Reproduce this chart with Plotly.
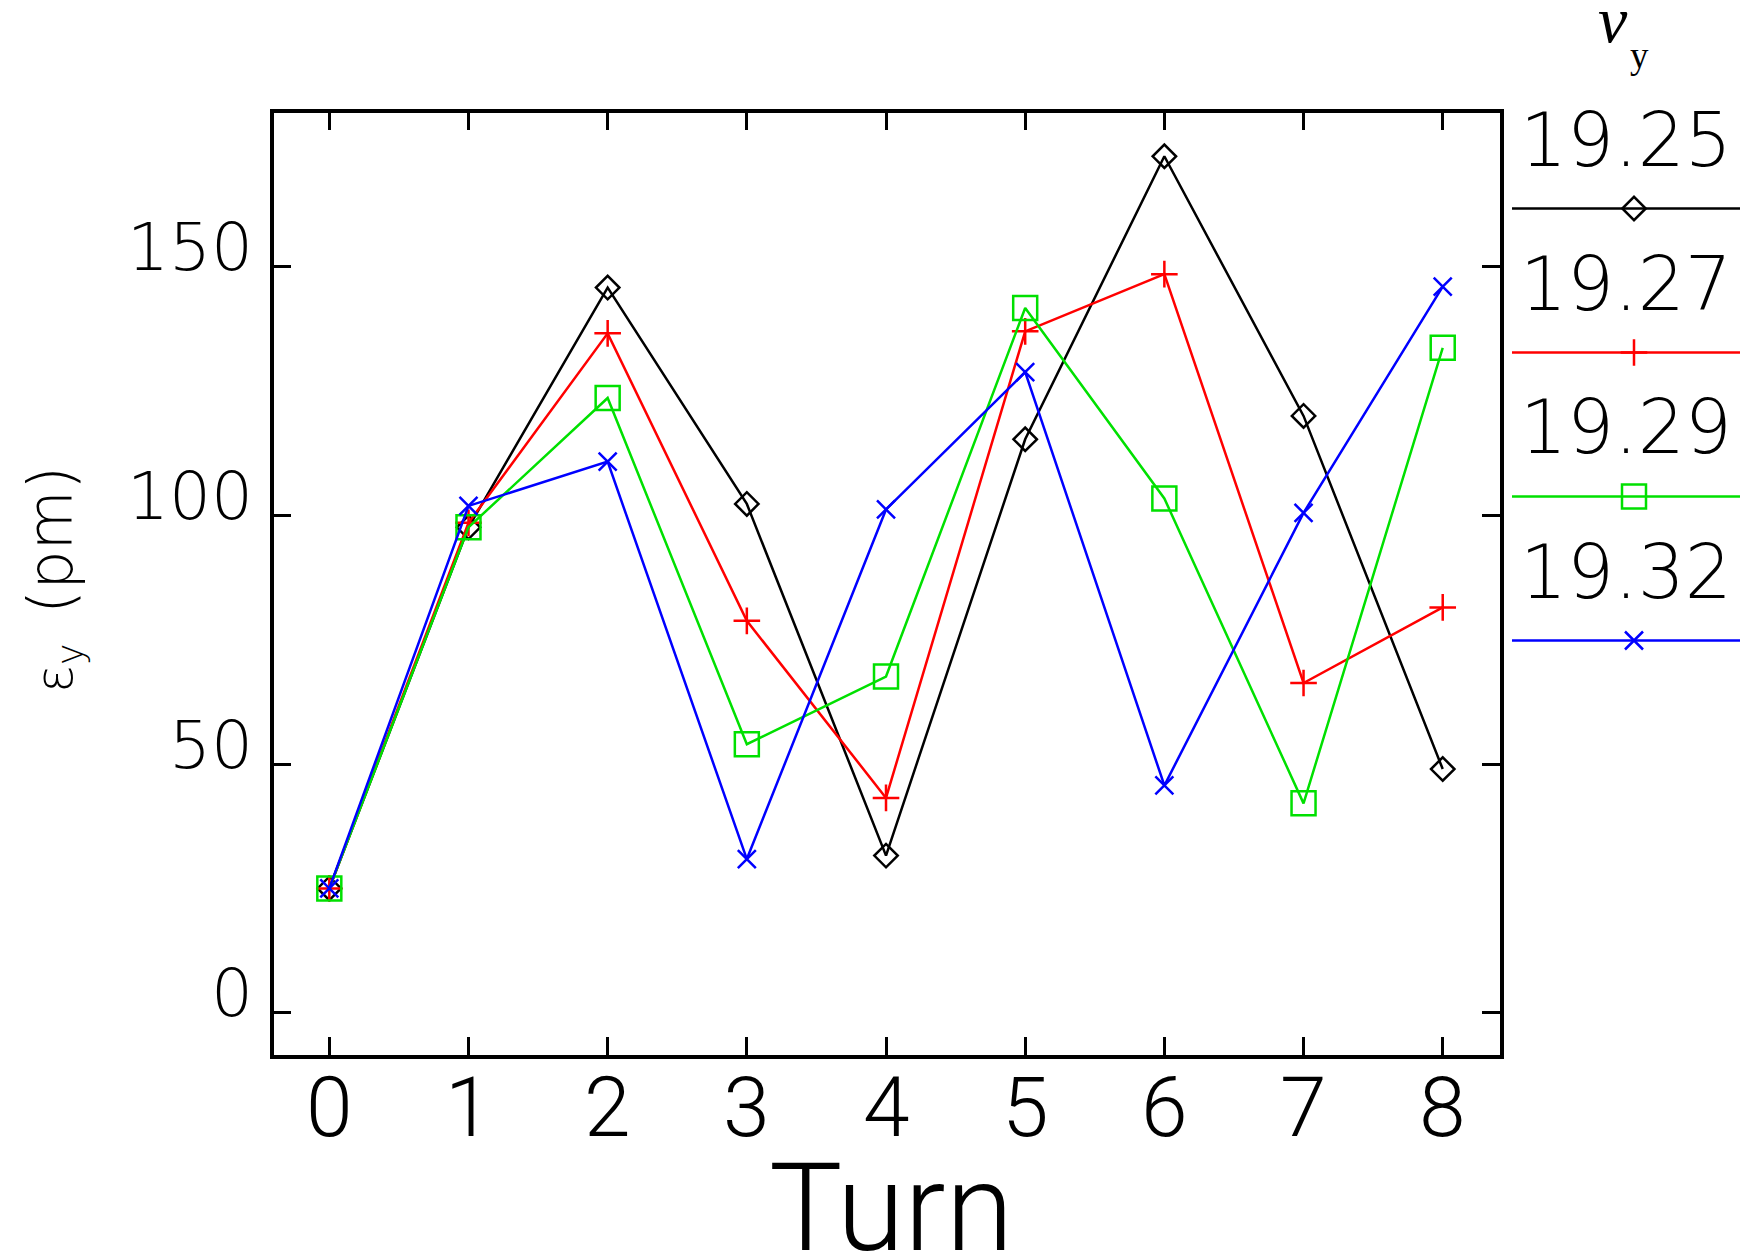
import plotly.graph_objects as go

# ---- data ----
turns = [0, 1, 2, 3, 4, 5, 6, 7, 8]
tune_labels = ["19.25", "19.27", "19.29", "19.32"]
eps_1925 = [25, 97.6, 145.8, 102.3, 31.6, 115.3, 172.2, 120.0, 49.0]
eps_1927 = [25, 98.5, 136.6, 78.8, 43.2, 137.0, 148.5, 66.3, 81.5]
eps_1929 = [25, 97.6, 123.6, 54.0, 67.6, 141.7, 103.4, 42.1, 133.7]
eps_1932 = [25, 101.9, 110.8, 30.9, 101.2, 128.8, 45.7, 100.5, 146.0]
x_ticks = [0, 1, 2, 3, 4, 5, 6, 7, 8]
y_ticks = [0, 50, 100, 150]

series = [eps_1925, eps_1927, eps_1929, eps_1932]
colors = ["#000000", "#ff0000", "#00e000", "#0000ff"]
symbols = ["diamond-open", "cross-thin-open", "square-open", "x-thin-open"]
msizes = [18, 19, 24, 18]

W, H = 1748, 1255
OFF = 8  # default page body margin
px = lambda v: (v - OFF) / W
py = lambda v: 1 - (v - OFF) / H

SANS = "DejaVu Sans"
NARROW = "Roboto"
LIGHT = 200

fig = go.Figure()
for vals, c, s, ms, name in zip(series, colors, symbols, msizes, tune_labels):
    fig.add_trace(go.Scatter(
        x=turns, y=vals, mode="lines+markers", name=name,
        line=dict(color=c, width=2.5),
        marker=dict(symbol=s, size=ms, color=c, line=dict(color=c, width=2.5)),
        showlegend=False, xaxis="x", yaxis="y", cliponaxis=False,
    ))

# custom legend (label above a line with its marker), in the right margin
leg_x0 = 1512
line_y0, step, text_off = 208.5, 144, -69
shapes = []
annotations = []
for i, (c, s, ms, name) in enumerate(zip(colors, symbols, msizes, tune_labels)):
    ly = line_y0 + step * i
    shapes.append(dict(type="line", xref="paper", yref="paper",
                       x0=px(leg_x0), x1=1.0, y0=py(ly), y1=py(ly),
                       line=dict(color=c, width=2.5)))
    fig.add_trace(go.Scatter(
        x=[0.5], y=[py(ly)], mode="markers", showlegend=False,
        marker=dict(symbol=s, size=ms, color=c, line=dict(color=c, width=2.5)),
        xaxis="x2", yaxis="y2", hoverinfo="skip", cliponaxis=False,
    ))
    annotations.append(dict(text=name, xref="paper", yref="paper",
                            x=px(1626), y=py(ly + text_off), xanchor="center", yanchor="middle",
                            showarrow=False, font=dict(family=SANS, size=74, color="black", weight=LIGHT)))

# legend title  nu_y
annotations.append(dict(text="<i>ν</i>", xref="paper", yref="paper", x=px(1613), y=py(19),
                        xanchor="center", yanchor="middle", showarrow=False,
                        font=dict(family="Liberation Serif", size=66, color="black")))
annotations.append(dict(text="y", xref="paper", yref="paper", x=px(1639), y=py(55),
                        xanchor="center", yanchor="middle", showarrow=False,
                        font=dict(family="Liberation Serif", size=37, color="black")))

# y tick labels (sit a little above their ticks, as in the original)
for v in y_ticks:
    annotations.append(dict(text=str(v), xref="paper", yref="y", x=px(273.5), y=v,
                            xanchor="right", yanchor="middle", xshift=-19, yshift=19,
                            showarrow=False, font=dict(family=SANS, size=66, color="black", weight=LIGHT)))

# x tick labels
for v in x_ticks:
    annotations.append(dict(text=str(v), xref="x", yref="paper", x=v, y=py(1107.5),
                            xanchor="center", yanchor="middle",
                            showarrow=False, font=dict(family=NARROW, size=84, color="black", weight=300)))

# axis titles
annotations.append(dict(text="(pm)", xref="paper", yref="paper", x=px(50), y=py(540),
                        xanchor="center", yanchor="middle", textangle=-90, showarrow=False,
                        font=dict(family=SANS, size=62, color="black", weight=LIGHT)))
annotations.append(dict(text="ε<sub>y</sub>", xref="paper", yref="paper", x=px(58), y=py(668),
                        xanchor="center", yanchor="middle", textangle=-90, showarrow=False,
                        font=dict(family=SANS, size=52, color="black", weight=LIGHT)))
annotations.append(dict(text="Turn", xref="paper", yref="paper", x=px(891), y=py(1208),
                        xanchor="center", yanchor="middle", showarrow=False,
                        font=dict(family=NARROW, size=123, color="black", weight=300)))

fig.update_layout(
    width=W, height=H,
    margin=dict(l=0, r=0, t=0, b=0),
    paper_bgcolor="white", plot_bgcolor="white",
    font=dict(family=SANS, color="black"),
    shapes=shapes, annotations=annotations,
    xaxis=dict(domain=[px(273.5), px(1499.5)], range=[-0.401, 8.408],
               tickvals=x_ticks, showticklabels=False,
               ticks="inside", ticklen=18, tickwidth=2.5, tickcolor="black",
               showline=True, linewidth=3.5, linecolor="black", mirror="ticks",
               showgrid=False, zeroline=False,
               anchor="y"),
    yaxis=dict(domain=[py(1055), py(112.5)], range=[-8.49, 181.0],
               tickvals=y_ticks, showticklabels=False,
               ticks="inside", ticklen=18, tickwidth=2.5, tickcolor="black",
               showline=True, linewidth=3.5, linecolor="black", mirror="ticks",
               showgrid=False, zeroline=False,
               anchor="x"),
    xaxis2=dict(domain=[px(leg_x0), 1.0], range=[0, 1], visible=False, anchor="y2"),
    yaxis2=dict(domain=[0, 1], range=[0, 1], visible=False, anchor="x2"),
)

fig.write_html("out.html")
